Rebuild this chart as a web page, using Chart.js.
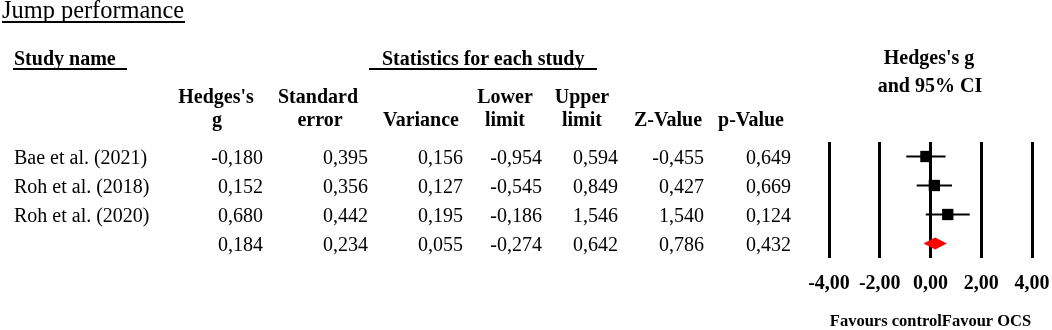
<!DOCTYPE html>
<html>
<head>
<meta charset="utf-8">
<script src="https://cdn.jsdelivr.net/npm/chart.js@4.4.1/dist/chart.umd.min.js"></script>
<style>
  html, body { margin: 0; padding: 0; background: #fff; }
  #wrap { position: relative; width: 1052px; height: 330px; overflow: hidden; background: #fff;
          font-family: 'Liberation Serif', 'Times New Roman', serif; color: #000; }
  #c { position: absolute; left: 0; top: 0; }
  .t { position: absolute; white-space: nowrap; }
  .ul { position: absolute; background: #000; }
</style>
</head>
<body>
<div id="wrap">
  <canvas id="c" width="1052" height="330"></canvas>
</div>
<script>
// ---- data ----
const studyNames = ['Bae et al. (2021)', 'Roh et al. (2018)', 'Roh et al. (2020)', ''];
const hedgesG    = [-0.180, 0.152, 0.680, 0.184];
const stdError   = [0.395, 0.356, 0.442, 0.234];
const variance   = [0.156, 0.127, 0.195, 0.055];
const lowerLimit = [-0.954, -0.545, -0.186, -0.274];
const upperLimit = [0.594, 0.849, 1.546, 0.642];
const zValue     = [-0.455, 0.427, 1.540, 0.786];
const pValue     = [0.649, 0.669, 0.124, 0.432];
const xTicks     = [-4, -2, 0, 2, 4];
const summaryIndex = 3;  // last row is the pooled estimate

// ---- table text (HTML) ----
const wrap = document.getElementById('wrap');
const fmt = (v, d) => v.toFixed(d).replace('.', ',');
function txt(str, x, baseline, align, size, bold) {
  const d = document.createElement('div');
  d.className = 't';
  d.textContent = str;
  d.style.fontSize = size + 'px';
  d.style.lineHeight = size + 'px';
  d.style.fontWeight = bold ? 'bold' : 'normal';
  d.style.top = (baseline - 0.8375 * size) + 'px';
  if (align === 'left') { d.style.left = x + 'px'; }
  else if (align === 'right') { d.style.right = (1052 - x) + 'px'; }
  else { d.style.left = (x - 150) + 'px'; d.style.width = '300px'; d.style.textAlign = 'center'; }
  wrap.appendChild(d);
}
function ul(x, y, w, h) {
  const d = document.createElement('div');
  d.className = 'ul';
  d.style.left = x + 'px'; d.style.top = y + 'px';
  d.style.width = w + 'px'; d.style.height = h + 'px';
  wrap.appendChild(d);
}

txt('Jump performance', 2, 18.5, 'left', 24.4, false);
ul(2, 21, 183, 2);
txt('Study name', 14, 64.5, 'left', 20, true);
ul(13, 68, 114, 2);
txt('Statistics for each study', 382, 64.5, 'left', 20, true);
ul(369, 68, 228, 2);

const H1 = 102.5, H2 = 125.5;
txt("Hedges's", 216, H1, 'center', 20, true);  txt('g', 217, H2, 'center', 20, true);
txt('Standard', 318, H1, 'center', 20, true);  txt('error', 320, H2, 'center', 20, true);
txt('Variance', 421, H2, 'center', 20, true);
txt('Lower', 505, H1, 'center', 20, true);     txt('limit', 505, H2, 'center', 20, true);
txt('Upper', 582, H1, 'center', 20, true);     txt('limit', 582, H2, 'center', 20, true);
txt('Z-Value', 668, H2, 'center', 20, true);
txt('p-Value', 751, H2, 'center', 20, true);
txt("Hedges's g", 929, 63.5, 'center', 20, true);
txt('and 95% CI', 930, 91.5, 'center', 20, true);

const rowBase = [163.5, 192.5, 221.5, 250.5];
const colRight = [263, 368, 463, 542, 618, 704, 791];
const cols = [hedgesG, stdError, variance, lowerLimit, upperLimit, zValue, pValue];
studyNames.forEach((name, i) => {
  if (name) txt(name, 14, rowBase[i], 'left', 20, false);
  cols.forEach((arr, j) => txt(fmt(arr[i], 3), colRight[j], rowBase[i], 'right', 20, false));
});

// ---- forest plot (Chart.js) ----
const rowIdx = studyNames.map((_, i) => i + 1);
const datasets = [];
studyNames.forEach((_, i) => {
  if (i === summaryIndex) return;
  datasets.push({
    type: 'line',
    data: [{ x: lowerLimit[i], y: rowIdx[i] }, { x: upperLimit[i], y: rowIdx[i] }],
    borderColor: '#000', borderWidth: 2, pointRadius: 0, fill: false, order: 2
  });
});
datasets.push({
  type: 'scatter',
  data: hedgesG.map((g, i) => ({ x: g, y: rowIdx[i] })).filter((_, i) => i !== summaryIndex),
  pointStyle: 'rect', pointRadius: 8, backgroundColor: '#000', borderColor: '#000',
  borderWidth: 0, order: 1
});

const diamondPlugin = {
  id: 'diamond',
  afterDatasetsDraw(chart) {
    const xs = chart.scales.x, ys = chart.scales.y, ctx = chart.ctx;
    const i = summaryIndex;
    const yc = ys.getPixelForValue(rowIdx[i]);
    const half = 6;
    ctx.save();
    ctx.beginPath();
    ctx.moveTo(xs.getPixelForValue(lowerLimit[i]), yc);
    ctx.lineTo(xs.getPixelForValue(hedgesG[i]), yc - half);
    ctx.lineTo(xs.getPixelForValue(upperLimit[i]), yc);
    ctx.lineTo(xs.getPixelForValue(hedgesG[i]), yc + half);
    ctx.closePath();
    ctx.fillStyle = '#ff0000';
    ctx.fill();
    ctx.restore();
  }
};

new Chart(document.getElementById('c'), {
  type: 'scatter',
  data: { datasets },
  plugins: [diamondPlugin],
  options: {
    responsive: false, animation: false, devicePixelRatio: 1,
    layout: { padding: { left: 829, right: 20, top: 142, bottom: 0 } },
    plugins: { legend: { display: false }, tooltip: { enabled: false } },
    scales: {
      x: {
        type: 'linear', min: xTicks[0], max: xTicks[xTicks.length - 1],
        afterBuildTicks: (ax) => { ax.ticks = xTicks.map(v => ({ value: v })); },
        grid: { color: '#000', lineWidth: 3, drawTicks: true, tickLength: 14,
                tickColor: 'rgba(0,0,0,0)' },
        border: { display: false },
        ticks: {
          autoSkip: false, maxRotation: 0, minRotation: 0, padding: 0, color: '#000',
          font: { family: 'Liberation Serif', size: 20, weight: 'bold', lineHeight: 1.2 },
          callback: (v) => fmt(v, 2)
        },
        title: {
          display: true, text: 'Favours controlFavour OCS', color: '#000',
          font: { family: 'Liberation Serif', size: 16.5, weight: 'bold', lineHeight: 1 },
          padding: { top: 17.5, bottom: 0 }
        }
      },
      y: {
        type: 'linear', display: false, reverse: true, min: 0.5, max: rowIdx.length + 0.5,
        grid: { display: false }
      }
    }
  }
});
</script>
</body>
</html>
